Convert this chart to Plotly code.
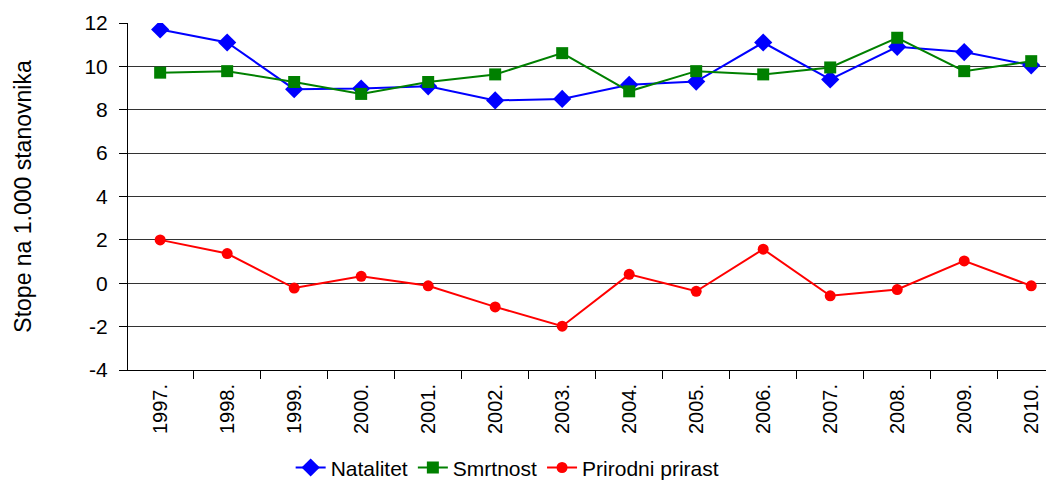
import plotly.graph_objects as go

years = ["1997.", "1998.", "1999.", "2000.", "2001.", "2002.", "2003.",
         "2004.", "2005.", "2006.", "2007.", "2008.", "2009.", "2010."]
natalitet = [11.7, 11.1, 8.95, 8.98, 9.08, 8.43, 8.5, 9.15, 9.3, 11.1, 9.4, 10.9, 10.66, 10.05]
smrtnost = [9.71, 9.78, 9.28, 8.73, 9.28, 9.63, 10.61, 8.85, 9.78, 9.63, 9.95, 11.32, 9.78, 10.24]
prirast = [2.0, 1.37, -0.22, 0.32, -0.12, -1.09, -1.98, 0.41, -0.37, 1.57, -0.58, -0.29, 1.03, -0.12]
y_tick_values = [-4, -2, 0, 2, 4, 6, 8, 10, 12]
y_tick_labels = ["-4", "-2", "0", "2", "4", "6", "8", "10", "12"]

font_family = "Liberation Sans, Arial, sans-serif"

fig = go.Figure()
fig.add_trace(go.Scatter(x=years, y=natalitet, name="Natalitet", mode="lines+markers",
                         line=dict(color="#0000FF", width=2),
                         marker=dict(symbol="diamond", size=14, color="#0000FF")))
fig.add_trace(go.Scatter(x=years, y=smrtnost, name="Smrtnost", mode="lines+markers",
                         line=dict(color="#008000", width=2),
                         marker=dict(symbol="square", size=12, color="#008000")))
fig.add_trace(go.Scatter(x=years, y=prirast, name="Prirodni prirast", mode="lines+markers",
                         line=dict(color="#FF0000", width=2),
                         marker=dict(symbol="circle", size=11, color="#FF0000")))

fig.update_layout(
    width=1046, height=478,
    margin=dict(l=120, r=0, t=15, b=116, autoexpand=False),
    paper_bgcolor="white", plot_bgcolor="white",
    font=dict(family=font_family, size=21, color="black"),
    showlegend=True,
    legend=dict(orientation="h", x=0.41, xanchor="center", y=-0.282, yanchor="middle",
                font=dict(size=21), tracegroupgap=0,
                bgcolor="rgba(0,0,0,0)"),
    xaxis=dict(type="category", range=[-0.48, 13.34], tickson="boundaries",
               ticks="outside", ticklen=8, tickcolor="black", tickwidth=1,
               showline=True, linecolor="black", linewidth=1, showgrid=False,
               tickangle=-90, tickfont=dict(size=20), zeroline=False,
               ticklabelstandoff=5),
    yaxis=dict(range=[-4, 12], tickmode="array", tickvals=y_tick_values, ticktext=y_tick_labels,
               ticks="outside", ticklen=8, tickcolor="black",
               showline=True, linecolor="black", linewidth=1,
               showgrid=True, gridcolor="#333333", gridwidth=1, zeroline=False,
               tickfont=dict(size=21), ticklabelstandoff=7,
               title=dict(text="Stope na 1.000 stanovnika", font=dict(size=23), standoff=46)),
)

fig.write_html("out.html")
